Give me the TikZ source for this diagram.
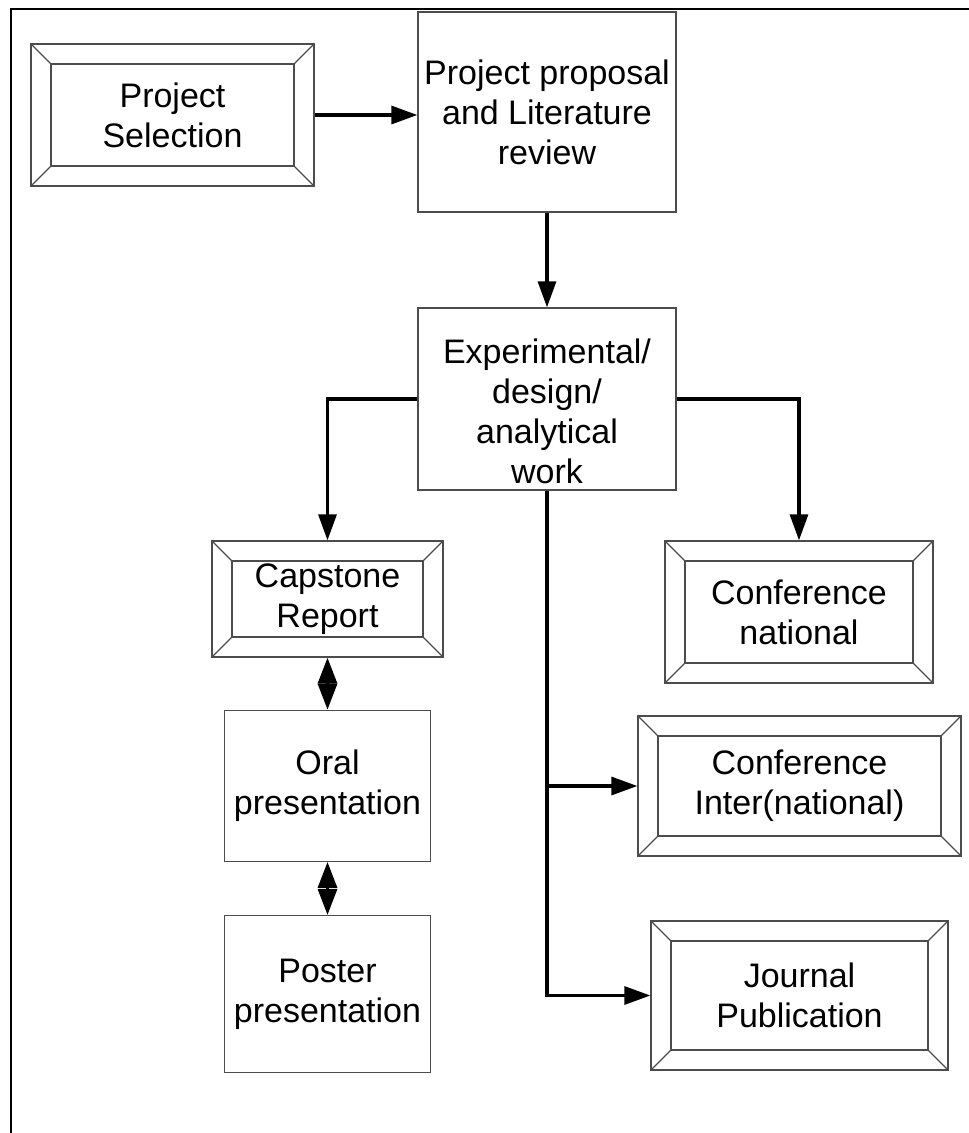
\documentclass[tikz,border=0pt]{standalone}
\usepackage{fontspec}
\setmainfont{Liberation Sans}
\usetikzlibrary{arrows.meta}
\usetikzlibrary{positioning}

\begin{document}
\begin{tikzpicture}[x=1pt, y=-1pt,
        box/.style={rectangle, draw=black!70, line width=1.3pt, align=center, inner sep=0pt,
            font=\fontsize{34}{40}\selectfont},
        bevel box/.style={box, path picture={
            \draw [black!70, line width=1.3pt]
                ([shift={(20pt,-20pt)}]path picture bounding box.north west) rectangle
                ([shift={(-20pt,20pt)}]path picture bounding box.south east);
            \foreach \corner/\dx/\dy in {north west/20/-20, north east/-20/-20, south west/20/20, south east/-20/20}
                \draw [black!70, line width=1.1pt] (path picture bounding box.\corner) -- ++(\dx pt,\dy pt);
        }},
        conn/.style={line width=3.2pt, -{Triangle[length=26pt,width=18pt]}},
        both/.style={line width=3.2pt, {Triangle[length=26pt,width=19pt]}-{Triangle[length=26pt,width=19pt]}}]
    \useasboundingbox (0,0) rectangle (969,1133);
    % frame
    \draw [line width=1.6pt] (990,9) -- (11,9) -- (11,1150);

    \node (select) [bevel box, minimum width=283pt, minimum height=142pt] at (172.5,115) {Project\\Selection};
    \node (proposal) [box, minimum width=258pt, minimum height=200pt] at (547,112) {Project proposal\\and Literature\\review};
    \node (work) [box, minimum width=258pt, minimum height=182pt] at (547,399) {};
    \node (work text) [align=center, inner sep=0pt, font=\fontsize{34}{40}\selectfont] at (547,411) {Experimental/\\design/\\analytical\\work};

    % left column
    \node (capstone) [bevel box, minimum width=231pt, minimum height=116pt] at (327.5,599) {Capstone\\Report};
    \node (oral) [box, minimum width=206pt, minimum height=151pt, below=52pt of capstone] {Oral\\presentation};
    \node (poster) [box, minimum width=206pt, minimum height=157pt, below=53pt of oral] {Poster\\presentation};

    % right column
    \node (national) [bevel box, minimum width=268pt, minimum height=142pt] at (799,612) {Conference\\national};
    \node (inter) [bevel box, minimum width=323pt, minimum height=140pt] at (799.5,786) {Conference\\Inter(national)};
    \node (journal) [bevel box, minimum width=297pt, minimum height=149pt] at (799.5,995.5) {Journal\\Publication};

    \draw [conn] (select.east) -- (select.east -| proposal.west);
    \draw [conn] (proposal) -- (work);
    \draw [conn] (work.west) -| (capstone.north);
    \draw [conn] (work.east) -| (national.north);
    \draw [conn] (work.south) |- (journal.west);
    \draw [conn] (work.south |- inter.west) -- (inter.west);
    \draw [both] (capstone.south) -- (capstone.south |- oral.north);
    \draw [both] (oral.south) -- (oral.south |- poster.north);
\end{tikzpicture}
\end{document}
